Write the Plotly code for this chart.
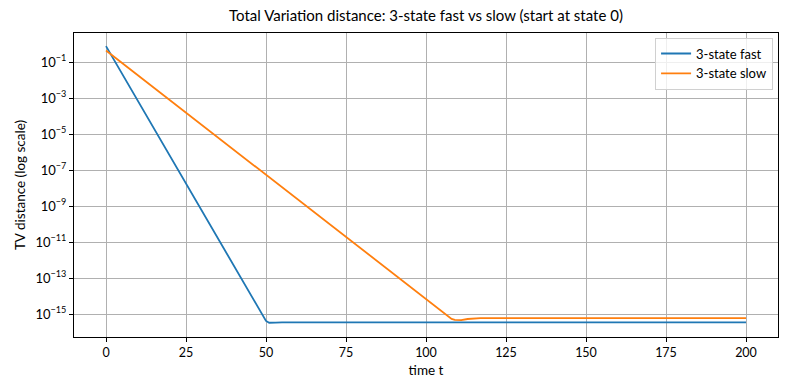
import plotly.graph_objects as go

# Data (vertices of the curves)
fast_t = [0, 49, 50, 51, 52, 53, 55, 200]
fast_tv = [0.8, 8.5e-16, 4.3e-16, 3.4e-16, 3.3e-16, 3.5e-16, 3.6e-16, 3.6e-16]

slow_t = [0, 107, 108, 109, 111, 113, 117, 200]
slow_tv = [0.45, 7.6e-16, 5.6e-16, 4.9e-16, 4.8e-16, 5.5e-16, 6.1e-16, 6.1e-16]

x_ticks = [0, 25, 50, 75, 100, 125, 150, 175, 200]
y_exps = [-1, -3, -5, -7, -9, -11, -13, -15]

FONT = "Lato"
BLUE = "#1f77b4"
ORANGE = "#ff7f0e"

fig = go.Figure()
fig.add_trace(go.Scatter(x=fast_t, y=fast_tv, mode="lines", name="3-state fast",
                         line=dict(color=BLUE, width=1.8)))
fig.add_trace(go.Scatter(x=slow_t, y=slow_tv, mode="lines", name="3-state slow",
                         line=dict(color=ORANGE, width=1.8)))

fig.update_layout(
    width=790, height=390,
    margin=dict(l=74, r=12, t=33, b=53, autoexpand=False),
    paper_bgcolor="white", plot_bgcolor="white",
    font=dict(family=FONT, size=12, color="black"),
    title=dict(text="Total Variation distance: 3-state fast vs slow (start at state 0)",
               x=(74 + 778) / 2 / 790, xanchor="center", y=1 - 16 / 390, yanchor="middle",
               font=dict(family=FONT, size=15, color="black"), automargin=False),
    showlegend=True,
    legend=dict(x=0.993, y=0.985, xanchor="right", yanchor="top",
                bgcolor="rgba(255,255,255,0.8)", bordercolor="#d0d0d0", borderwidth=1,
                font=dict(family=FONT, size=13), tracegroupgap=2),
)

fig.update_xaxes(
    range=[-10, 210], tickvals=x_ticks, ticktext=[str(v) for v in x_ticks],
    showgrid=True, gridcolor="#b0b0b0", gridwidth=0.8,
    showline=True, linecolor="black", linewidth=1, mirror=True,
    ticks="outside", ticklen=4, tickcolor="black", zeroline=False, automargin=False,
    tickfont=dict(size=12.5),
    title=dict(text="time t", font=dict(family=FONT, size=13.5), standoff=6),
)
fig.update_yaxes(
    type="log", range=[-16.26, 0.63],
    tickvals=[10.0 ** e for e in y_exps],
    ticktext=["10<sup>\u2212%d</sup>" % (-e) for e in y_exps],
    showgrid=True, gridcolor="#b0b0b0", gridwidth=0.8,
    showline=True, linecolor="black", linewidth=1, mirror=True,
    ticks="outside", ticklen=4, tickcolor="black", zeroline=False, automargin=False,
    tickfont=dict(size=13),
    title=dict(text="TV distance (log scale)", font=dict(family=FONT, size=13.5), standoff=6),
)

fig.write_html("out.html", config={"displayModeBar": False},
               post_script="document.body.style.margin='0';document.body.style.padding='0';")
